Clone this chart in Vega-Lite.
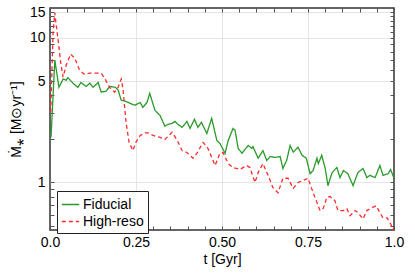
{
  "$schema": "https://vega.github.io/schema/vega-lite/v6.json",
  "width": 344,
  "height": 222,
  "autosize": {"type": "none"},
  "padding": {"left": 50, "top": 8, "right": 21, "bottom": 43},
  "background": "white",
  "config": {
    "font": "Liberation Sans",
    "view": {"stroke": "#333333", "strokeWidth": 1.5}
  },
  "datasets": {
    "fid": [
      {"t": 0.003, "v": 2.05}, {"t": 0.014, "v": 7.0}, {"t": 0.026, "v": 4.54}, {"t": 0.038, "v": 5.17},
      {"t": 0.047, "v": 5.08}, {"t": 0.052, "v": 5.3}, {"t": 0.067, "v": 4.84}, {"t": 0.081, "v": 4.54},
      {"t": 0.09, "v": 4.9}, {"t": 0.105, "v": 4.6}, {"t": 0.116, "v": 4.84}, {"t": 0.125, "v": 4.54},
      {"t": 0.14, "v": 4.9}, {"t": 0.149, "v": 4.2}, {"t": 0.163, "v": 4.27}, {"t": 0.174, "v": 4.6},
      {"t": 0.19, "v": 4.54}, {"t": 0.198, "v": 4.34}, {"t": 0.207, "v": 3.7}, {"t": 0.22, "v": 3.63},
      {"t": 0.235, "v": 3.5}, {"t": 0.247, "v": 3.41}, {"t": 0.262, "v": 3.57}, {"t": 0.27, "v": 3.3},
      {"t": 0.282, "v": 3.57}, {"t": 0.29, "v": 4.12}, {"t": 0.305, "v": 3.15}, {"t": 0.32, "v": 2.9},
      {"t": 0.334, "v": 2.44}, {"t": 0.343, "v": 2.52}, {"t": 0.355, "v": 2.56}, {"t": 0.363, "v": 2.64},
      {"t": 0.372, "v": 2.52}, {"t": 0.384, "v": 2.4}, {"t": 0.398, "v": 2.64}, {"t": 0.407, "v": 2.36},
      {"t": 0.42, "v": 2.73}, {"t": 0.43, "v": 2.4}, {"t": 0.44, "v": 2.6}, {"t": 0.456, "v": 2.18},
      {"t": 0.47, "v": 2.77}, {"t": 0.485, "v": 1.95}, {"t": 0.494, "v": 1.86}, {"t": 0.509, "v": 1.59},
      {"t": 0.518, "v": 1.95}, {"t": 0.532, "v": 2.36}, {"t": 0.538, "v": 2.29}, {"t": 0.547, "v": 1.72},
      {"t": 0.558, "v": 1.59}, {"t": 0.576, "v": 1.8}, {"t": 0.587, "v": 1.72}, {"t": 0.59, "v": 1.77},
      {"t": 0.605, "v": 1.47}, {"t": 0.619, "v": 1.66}, {"t": 0.63, "v": 1.42}, {"t": 0.64, "v": 1.51},
      {"t": 0.654, "v": 1.49}, {"t": 0.669, "v": 1.51}, {"t": 0.677, "v": 1.25}, {"t": 0.688, "v": 1.42},
      {"t": 0.698, "v": 1.8}, {"t": 0.707, "v": 1.62}, {"t": 0.721, "v": 1.75}, {"t": 0.733, "v": 1.54},
      {"t": 0.745, "v": 1.47}, {"t": 0.756, "v": 1.15}, {"t": 0.765, "v": 1.21}, {"t": 0.776, "v": 1.47},
      {"t": 0.78, "v": 1.35}, {"t": 0.79, "v": 1.54}, {"t": 0.8, "v": 1.25}, {"t": 0.808, "v": 0.95},
      {"t": 0.82, "v": 1.17}, {"t": 0.834, "v": 1.27}, {"t": 0.843, "v": 1.08}, {"t": 0.853, "v": 1.21},
      {"t": 0.866, "v": 1.15}, {"t": 0.881, "v": 0.95}, {"t": 0.895, "v": 1.17}, {"t": 0.91, "v": 1.25},
      {"t": 0.921, "v": 1.08}, {"t": 0.93, "v": 1.12}, {"t": 0.945, "v": 1.08}, {"t": 0.959, "v": 1.31},
      {"t": 0.968, "v": 1.12}, {"t": 0.983, "v": 1.15}, {"t": 0.99, "v": 1.23}, {"t": 1.0, "v": 1.07}
    ],
    "hr": [
      {"t": 0.002, "v": 3.05}, {"t": 0.009, "v": 10.9}, {"t": 0.014, "v": 14.8}, {"t": 0.018, "v": 12.2},
      {"t": 0.023, "v": 9.9}, {"t": 0.031, "v": 6.77}, {"t": 0.038, "v": 5.33}, {"t": 0.047, "v": 6.44},
      {"t": 0.06, "v": 7.69}, {"t": 0.072, "v": 7.2}, {"t": 0.086, "v": 5.96}, {"t": 0.1, "v": 5.58},
      {"t": 0.115, "v": 5.68}, {"t": 0.13, "v": 5.68}, {"t": 0.149, "v": 5.68}, {"t": 0.159, "v": 5.24},
      {"t": 0.173, "v": 4.54}, {"t": 0.188, "v": 4.2}, {"t": 0.198, "v": 4.54}, {"t": 0.207, "v": 5.17},
      {"t": 0.212, "v": 4.47}, {"t": 0.221, "v": 2.6}, {"t": 0.23, "v": 1.89}, {"t": 0.241, "v": 1.66},
      {"t": 0.25, "v": 1.9}, {"t": 0.262, "v": 2.11}, {"t": 0.276, "v": 2.2}, {"t": 0.285, "v": 2.2},
      {"t": 0.3, "v": 2.11}, {"t": 0.32, "v": 2.05}, {"t": 0.334, "v": 1.98}, {"t": 0.355, "v": 2.22},
      {"t": 0.37, "v": 1.95}, {"t": 0.384, "v": 1.66}, {"t": 0.398, "v": 1.61}, {"t": 0.416, "v": 1.47},
      {"t": 0.427, "v": 1.59}, {"t": 0.445, "v": 1.89}, {"t": 0.459, "v": 1.72}, {"t": 0.48, "v": 1.31},
      {"t": 0.494, "v": 1.59}, {"t": 0.503, "v": 1.61}, {"t": 0.518, "v": 1.35}, {"t": 0.532, "v": 1.27},
      {"t": 0.552, "v": 1.23}, {"t": 0.572, "v": 1.31}, {"t": 0.581, "v": 1.27}, {"t": 0.596, "v": 1.0},
      {"t": 0.605, "v": 1.17}, {"t": 0.619, "v": 1.35}, {"t": 0.634, "v": 1.12}, {"t": 0.648, "v": 0.92},
      {"t": 0.663, "v": 0.85}, {"t": 0.677, "v": 1.07}, {"t": 0.692, "v": 1.07}, {"t": 0.707, "v": 0.91},
      {"t": 0.721, "v": 1.0}, {"t": 0.735, "v": 1.03}, {"t": 0.75, "v": 1.07}, {"t": 0.765, "v": 0.85},
      {"t": 0.785, "v": 0.64}, {"t": 0.794, "v": 0.66}, {"t": 0.805, "v": 0.79}, {"t": 0.814, "v": 0.8},
      {"t": 0.828, "v": 0.75}, {"t": 0.837, "v": 0.64}, {"t": 0.853, "v": 0.64}, {"t": 0.863, "v": 0.66},
      {"t": 0.872, "v": 0.59}, {"t": 0.887, "v": 0.64}, {"t": 0.895, "v": 0.62}, {"t": 0.91, "v": 0.56},
      {"t": 0.921, "v": 0.64}, {"t": 0.936, "v": 0.67}, {"t": 0.948, "v": 0.69}, {"t": 0.959, "v": 0.62},
      {"t": 0.968, "v": 0.57}, {"t": 0.98, "v": 0.57}, {"t": 0.99, "v": 0.52}, {"t": 0.997, "v": 0.47},
      {"t": 1.0, "v": 0.49}
    ]
  },
  "layer": [
    {
      "data": {"name": "fid"},
      "transform": [{"calculate": "'Fiducial'", "as": "run"}],
      "mark": {"type": "line", "strokeWidth": 1.3, "clip": true},
      "encoding": {
        "x": {
          "field": "t", "type": "quantitative",
          "scale": {"domain": [0, 1], "nice": false},
          "axis": {
            "title": "t [Gyr]", "titleFontSize": 14, "titleFontWeight": "normal", "titleColor": "#000",
            "titlePadding": 3,
            "values": [0, 0.05, 0.1, 0.15, 0.2, 0.25, 0.3, 0.35, 0.4, 0.45, 0.5, 0.55, 0.6, 0.65, 0.7, 0.75, 0.8, 0.85, 0.9, 0.95, 1],
            "labelExpr": "datum.value == 0 ? '0.0' : datum.value == 1 ? '1.0' : (datum.value == 0.25 || datum.value == 0.5 || datum.value == 0.75) ? format(datum.value, '.2f') : ''",
            "labelOverlap": false,
            "labelFontSize": 14, "labelColor": "#000", "labelPadding": 9, "labelFlush": false,
            "tickSize": -4, "tickColor": "#555", "domain": false,
            "grid": true, "gridColor": "#e4e4e4", "gridWidth": 1,
            "gridOpacity": {"condition": {"test": "datum.value == 0.25 || datum.value == 0.5 || datum.value == 0.75", "value": 1}, "value": 0}
          }
        },
        "y": {
          "field": "v", "type": "quantitative",
          "scale": {"type": "log", "domain": [0.47, 16], "nice": false},
          "axis": {
            "title": "Ṁ⁎ [M⊙yr⁻¹]", "titleFontSize": 14, "titleFontWeight": "normal", "titleColor": "#000",
            "titlePadding": 6,
            "values": [0.5, 0.6, 0.7, 0.8, 0.9, 1, 2, 3, 4, 5, 6, 7, 8, 9, 10, 11, 12, 13, 14, 15],
            "labelExpr": "(datum.value == 1 || datum.value == 5 || datum.value == 10 || datum.value == 15) ? format(datum.value, 'd') : ''",
            "labelOverlap": false,
            "labelFontSize": 14, "labelColor": "#000", "labelPadding": 9,
            "tickSize": -4, "tickColor": "#555", "domain": false,
            "grid": true, "gridColor": "#e4e4e4", "gridWidth": 1,
            "gridOpacity": {"condition": {"test": "datum.value == 1 || datum.value == 5 || datum.value == 10 || datum.value == 15", "value": 1}, "value": 0}
          }
        },
        "color": {"field": "run", "type": "nominal"},
        "strokeDash": {"field": "run", "type": "nominal"}
      }
    },
    {
      "data": {"name": "hr"},
      "transform": [{"calculate": "'High-reso'", "as": "run"}],
      "mark": {"type": "line", "strokeWidth": 1.3, "clip": true},
      "encoding": {
        "x": {
          "field": "t", "type": "quantitative",
          "axis": {
            "orient": "top", "title": null, "labels": false,
            "values": [0, 0.05, 0.1, 0.15, 0.2, 0.25, 0.3, 0.35, 0.4, 0.45, 0.5, 0.55, 0.6, 0.65, 0.7, 0.75, 0.8, 0.85, 0.9, 0.95, 1],
            "tickSize": -4, "tickColor": "#555", "domain": false, "grid": false
          }
        },
        "y": {
          "field": "v", "type": "quantitative",
          "axis": {
            "orient": "right", "title": null, "labels": false,
            "values": [0.5, 0.6, 0.7, 0.8, 0.9, 1, 2, 3, 4, 5, 6, 7, 8, 9, 10, 11, 12, 13, 14, 15],
            "tickSize": -4, "tickColor": "#555", "domain": false, "grid": false
          }
        },
        "color": {"field": "run", "type": "nominal"},
        "strokeDash": {"field": "run", "type": "nominal"}
      }
    }
  ],
  "resolve": {"scale": {"color": "shared", "strokeDash": "shared", "x": "shared", "y": "shared"}, "axis": {"x": "independent", "y": "independent"}},
  "encoding": {
    "color": {
      "field": "run", "type": "nominal",
      "scale": {"domain": ["Fiducial", "High-reso"], "range": ["#2a9a2a", "#ff2a2a"]},
      "legend": {
        "title": null, "orient": "none", "legendX": 7, "legendY": 183,
        "symbolType": "stroke", "symbolSize": 300, "symbolStrokeWidth": 1.5,
        "labelFontSize": 14, "labelColor": "#000",
        "strokeColor": "#222", "fillColor": "white", "padding": 4, "rowPadding": 0, "labelOffset": 3
      }
    },
    "strokeDash": {
      "field": "run", "type": "nominal",
      "scale": {"domain": ["Fiducial", "High-reso"], "range": [[1, 0], [4, 3]]},
      "legend": {
        "title": null, "orient": "none", "legendX": 7, "legendY": 183,
        "symbolType": "stroke", "symbolSize": 300, "symbolStrokeWidth": 1.5,
        "labelFontSize": 14, "labelColor": "#000",
        "strokeColor": "#222", "fillColor": "white", "padding": 4, "rowPadding": 0, "labelOffset": 3
      }
    }
  }
}
